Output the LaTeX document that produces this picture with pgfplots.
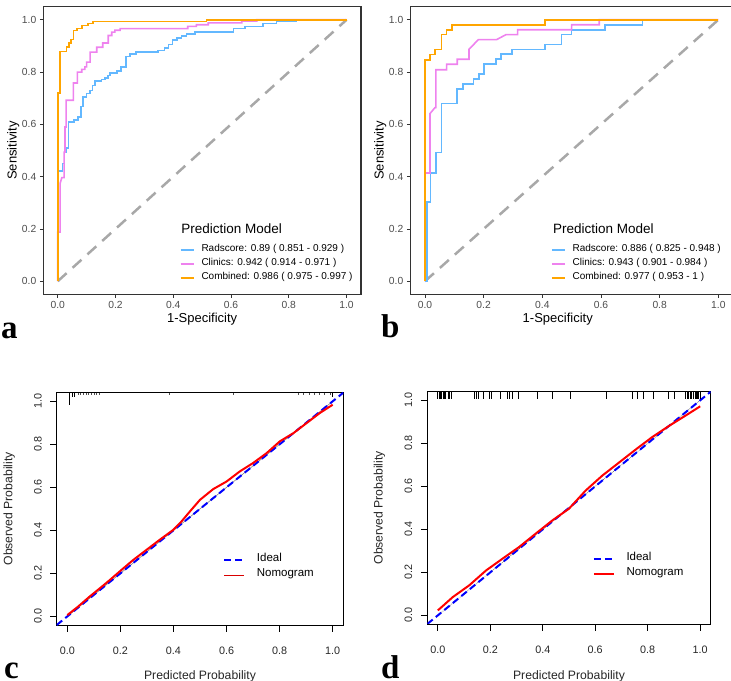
\documentclass[border=0pt]{standalone}
\usepackage{pgfplots}
\pgfplotsset{compat=1.18}
\usepackage{fontspec}
\setmainfont{Liberation Sans}
\newfontfamily\panelfont{Liberation Serif}
\definecolor{radc}{HTML}{63B8FF}
\definecolor{clinc}{HTML}{EE82EE}
\definecolor{combc}{HTML}{FFA500}
\definecolor{diagc}{HTML}{A8A8A8}
\definecolor{ticktxt}{HTML}{4D4D4D}
\pgfplotsset{
  roc/.style={
    scale only axis, height=287.6bp,
    xmin=-0.05, xmax=1.05, ymin=-0.05, ymax=1.05,
    xtick={0,0.2,0.4,0.6,0.8,1}, ytick={0,0.2,0.4,0.6,0.8,1},
    xticklabels={0.0,0.2,0.4,0.6,0.8,1.0}, yticklabels={0.0,0.2,0.4,0.6,0.8,1.0},
    tick align=outside, tick pos=left, major tick length=3.5bp,
    axis line style={draw=black!80, line width=1.1bp},
    every tick/.style={draw=black!80, line width=0.8bp},
    tick label style={font=\fontsize{10.3bp}{12bp}\selectfont, text=ticktxt},
    label style={font=\fontsize{13bp}{15bp}\selectfont},
    xlabel={1-Specificity}, ylabel={Sensitivity},
    legend cell align=left,
    legend image code/.code={\draw[##1, line width=1.6bp] (0bp,0bp) -- (13bp,0bp);},
    legend style={anchor=north west, draw=none, fill=none, inner sep=0pt, outer sep=0pt,
      font=\fontsize{10bp}{12bp}\selectfont, row sep=0pt,
      nodes={inner ysep=0pt, inner xsep=0pt, text height=8bp, text depth=6bp},
      /tikz/every odd column/.append style={column sep=7bp}},
  },
  cal/.style={
    scale only axis, height=232.3bp,
    xmin=-0.04, xmax=1.04, ymin=-0.04, ymax=1.04,
    xtick={0,0.2,0.4,0.6,0.8,1}, ytick={0,0.2,0.4,0.6,0.8,1},
    xticklabels={0.0,0.2,0.4,0.6,0.8,1.0}, yticklabels={0.0,0.2,0.4,0.6,0.8,1.0},
    tick align=outside, tick pos=left, major tick length=6.5bp,
    axis line style={draw=black, line width=0.9bp},
    every tick/.style={draw=black, line width=0.8bp},
    tick label style={font=\fontsize{10.8bp}{12bp}\selectfont, text=black!85},
    yticklabel style={rotate=90, anchor=south},
    xticklabel shift=12bp, yticklabel shift=5bp,
    label style={font=\fontsize{12.2bp}{14bp}\selectfont, text=black!85},
    xlabel={Predicted Probability}, ylabel={Observed Probability},
    legend cell align=left,
    legend style={anchor=north west, draw=none, fill=none, inner sep=0pt, outer sep=0pt,
      font=\fontsize{11.5bp}{13bp}\selectfont, row sep=0pt,
      nodes={inner ysep=0pt, inner xsep=0pt, text height=8.5bp, text depth=6.5bp},
      /tikz/every odd column/.append style={column sep=11.7bp}},
    legend image code/.code={\draw[##1] (0bp,0bp) -- (20bp,0bp);},
  },
}
\begin{document}
\begin{tikzpicture}
\useasboundingbox (0,0) rectangle (731bp,681bp);
\begin{pgfinterruptboundingbox}
\begin{scope}
\clip (0,0) rectangle (731bp,681bp);
% ---------------- panel a ----------------
\begin{axis}[roc, at={(43.3bp,386.7bp)}, anchor=south west, width=317.7bp,
  xlabel style={at={(axis description cs:0.5,-0.087)}, anchor=center},
  ylabel style={at={(axis description cs:-0.0944,0.5)}, anchor=center},
  legend style={at={(axis description cs:0.430,0.178)}}]
\addplot[diagc, line width=2.5bp, dash pattern=on 12bp off 8bp, forget plot] coordinates {(0,0) (1,1)};
\addplot[radc, line width=1.6bp] coordinates {
(0,0)(0,0.421)(0.017,0.421)(0.017,0.45)(0.023,0.45)(0.023,0.494)(0.031,0.494)(0.031,0.51)(0.037,0.51)(0.037,0.609)(0.056,0.609)(0.056,0.617)(0.071,0.617)(0.071,0.628)(0.08,0.628)(0.08,0.669)(0.088,0.669)(0.088,0.704)(0.1,0.704)(0.1,0.718)(0.112,0.718)(0.112,0.73)(0.121,0.73)(0.121,0.749)(0.129,0.749)(0.129,0.765)(0.152,0.765)(0.152,0.772)(0.164,0.772)(0.164,0.778)(0.174,0.778)(0.174,0.787)(0.181,0.787)(0.181,0.796)(0.205,0.796)(0.205,0.805)(0.218,0.805)(0.218,0.819)(0.236,0.819)(0.236,0.86)(0.25,0.86)(0.25,0.87)(0.27,0.87)(0.27,0.876)(0.348,0.876)(0.348,0.882)(0.37,0.882)(0.37,0.893)(0.383,0.893)(0.383,0.905)(0.398,0.905)(0.398,0.923)(0.412,0.923)(0.412,0.93)(0.429,0.93)(0.429,0.937)(0.446,0.937)(0.446,0.945)(0.475,0.945)(0.475,0.953)(0.608,0.953)(0.608,0.966)(0.648,0.966)(0.648,0.974)(0.711,0.974)(0.711,0.985)(0.758,0.985)(0.758,0.993)(0.827,0.993)(0.827,1)(1,1)};
\addlegendentry{Radscore: 0.89 ( 0.851 - 0.929 )}
\addplot[clinc, line width=1.6bp] coordinates {
(0,0)(0,0.188)(0.008,0.188)(0.008,0.373)(0.014,0.396)(0.022,0.396)(0.022,0.494)(0.025,0.494)(0.025,0.59)(0.029,0.59)(0.029,0.692)(0.054,0.692)(0.054,0.758)(0.068,0.758)(0.068,0.8)(0.083,0.8)(0.083,0.81)(0.094,0.81)(0.094,0.82)(0.1,0.82)(0.1,0.838)(0.112,0.838)(0.112,0.876)(0.135,0.876)(0.135,0.895)(0.156,0.895)(0.156,0.911)(0.175,0.911)(0.175,0.94)(0.187,0.94)(0.187,0.953)(0.198,0.953)(0.198,0.96)(0.216,0.96)(0.216,0.966)(0.45,0.966)(0.45,0.975)(0.48,0.975)(0.48,0.981)(0.521,0.981)(0.521,0.988)(0.637,0.988)(0.637,0.995)(0.689,0.995)(0.689,1)(1,1)};
\addlegendentry{Clinics: 0.942 ( 0.914 - 0.971 )}
\addplot[combc, line width=1.6bp] coordinates {
(0,0)(0,0.72)(0.007,0.72)(0.007,0.879)(0.03,0.879)(0.03,0.895)(0.039,0.895)(0.039,0.911)(0.046,0.911)(0.046,0.925)(0.054,0.925)(0.054,0.959)(0.066,0.959)(0.066,0.967)(0.083,0.967)(0.083,0.978)(0.104,0.978)(0.104,0.985)(0.123,0.985)(0.123,0.993)(0.515,0.993)(0.515,1)(1,1)};
\addlegendentry{Combined: 0.986 ( 0.975 - 0.997 )}
\node[anchor=west, inner sep=0pt, font=\fontsize{13.5bp}{15bp}\selectfont] at (axis cs:0.427,0.2025) {Prediction Model};
\end{axis}
% ---------------- panel b ----------------
\begin{axis}[roc, at={(410.3bp,386.7bp)}, anchor=south west, width=322.7bp,
  xlabel style={at={(axis description cs:0.457,-0.087)}, anchor=center},
  ylabel style={at={(axis description cs:-0.093,0.5)}, anchor=center},
  legend style={at={(axis description cs:0.436,0.178)}}]
\addplot[diagc, line width=2.5bp, dash pattern=on 12bp off 8bp, forget plot] coordinates {(0,0) (1,1)};
\addplot[radc, line width=1.6bp] coordinates {
(0,0)(0.006,0)(0.006,0.303)(0.019,0.303)(0.019,0.414)(0.038,0.414)(0.038,0.492)(0.056,0.492)(0.056,0.679)(0.11,0.679)(0.11,0.736)(0.13,0.736)(0.13,0.755)(0.165,0.755)(0.165,0.774)(0.185,0.774)(0.185,0.793)(0.202,0.793)(0.202,0.83)(0.242,0.83)(0.242,0.849)(0.259,0.849)(0.259,0.868)(0.296,0.868)(0.296,0.887)(0.409,0.887)(0.409,0.906)(0.466,0.906)(0.466,0.943)(0.5,0.943)(0.5,0.962)(0.614,0.962)(0.614,0.981)(0.742,0.981)(0.742,1)(1,1)};
\addlegendentry{Radscore: 0.886 ( 0.825 - 0.948 )}
\addplot[clinc, line width=1.6bp] coordinates {
(0,0)(0,0.414)(0.017,0.414)(0.017,0.641)(0.034,0.664)(0.037,0.664)(0.037,0.809)(0.074,0.809)(0.074,0.83)(0.11,0.83)(0.11,0.849)(0.15,0.849)(0.15,0.887)(0.182,0.924)(0.244,0.924)(0.276,0.943)(0.316,0.943)(0.316,0.962)(0.5,0.962)(0.5,0.981)(0.594,0.981)(0.594,1)(1,1)};
\addlegendentry{Clinics: 0.943 ( 0.901 - 0.984 )}
\addplot[combc, line width=1.6bp] coordinates {
(0,0)(0,0.847)(0.017,0.847)(0.017,0.867)(0.034,0.867)(0.034,0.887)(0.056,0.887)(0.056,0.943)(0.074,0.943)(0.074,0.962)(0.093,0.962)(0.093,0.981)(0.409,0.981)(0.409,1)(1,1)};
\addlegendentry{Combined: 0.977 ( 0.953 - 1 )}
\node[anchor=west, inner sep=0pt, font=\fontsize{13.5bp}{15bp}\selectfont] at (axis cs:0.4364,0.2025) {Prediction Model};
\end{axis}
% ---------------- panel c ----------------
\begin{axis}[cal, at={(56.7bp,56bp)}, anchor=south west, width=286.6bp,
  xlabel style={at={(axis description cs:0.5,-0.2226)}, anchor=center},
  ylabel style={at={(axis description cs:-0.1654,0.5)}, anchor=center},
  legend style={at={(axis description cs:0.581,0.312)}}]
\addplot[gray, line width=0.6bp, forget plot] coordinates {(0,0) (1,1)};
\addplot[blue, line width=2bp, dash pattern=on 7bp off 4bp] coordinates {(-0.04,-0.04) (1.04,1.04)};
\addlegendentry{Ideal}
\addplot[red, line width=2bp, forget plot] coordinates {
(0,0.006)(0.04,0.045)(0.084,0.092)(0.122,0.13)(0.16,0.169)(0.204,0.216)(0.248,0.262)(0.298,0.309)(0.348,0.356)(0.399,0.402)(0.43,0.441)(0.462,0.488)(0.5,0.542)(0.55,0.592)(0.6,0.627)(0.65,0.674)(0.7,0.713)(0.751,0.759)(0.801,0.814)(0.852,0.852)(0.902,0.899)(0.952,0.946)(1,0.984)};
\addlegendimage{red!85!black, line width=1bp}
\addlegendentry{Nomogram}
\addplot[only marks, mark=|, mark size=6bp, mark options={line width=0.7bp, draw=black}, forget plot] coordinates {(0.009,1.012)};
\addplot[only marks, mark=|, mark size=2bp, mark options={line width=0.6bp, draw=black}, forget plot] coordinates {(0.02,1.031)(0.025,1.031)(1.0,1.031)};
\addplot[only marks, mark=|, mark size=1.2bp, mark options={line width=0.6bp, draw=black!70}, forget plot] coordinates {
(0.04,1.034)(0.05,1.034)(0.06,1.034)(0.07,1.034)(0.08,1.034)(0.09,1.034)(0.1,1.034)(0.11,1.034)(0.12,1.034)(0.386,1.034)(0.625,1.034)(0.87,1.034)(0.89,1.034)(0.91,1.034)(0.93,1.034)(0.95,1.034)(0.97,1.034)(0.99,1.034)};
\end{axis}
% ---------------- panel d ----------------
\begin{axis}[cal, at={(427.3bp,57bp)}, anchor=south west, width=283.4bp,
  xlabel style={at={(axis description cs:0.5,-0.224)}, anchor=center},
  ylabel style={at={(axis description cs:-0.169,0.5)}, anchor=center},
  legend style={at={(axis description cs:0.584,0.31)}}]
\addplot[black!70, line width=0.6bp, densely dotted, forget plot] coordinates {(0,0) (1,1)};
\addplot[blue, line width=2bp, dash pattern=on 7bp off 4bp] coordinates {(-0.04,-0.04) (1.04,1.04)};
\addlegendentry{Ideal}
\addplot[red, line width=2bp] coordinates {
(0,0.023)(0.057,0.085)(0.12,0.14)(0.184,0.209)(0.247,0.264)(0.31,0.318)(0.373,0.38)(0.437,0.442)(0.5,0.496)(0.563,0.58)(0.627,0.65)(0.69,0.71)(0.753,0.77)(0.816,0.828)(0.88,0.88)(0.943,0.928)(1,0.972)};
\addlegendentry{Nomogram}
\addplot[only marks, mark=|, mark size=3.4bp, mark options={line width=0.8bp, draw=black}, forget plot] coordinates {
(0,1.024)(0.005,1.024)(0.01,1.024)(0.015,1.024)(0.02,1.024)(0.025,1.024)(0.03,1.024)(0.04,1.024)(0.045,1.024)(0.05,1.024)
(0.139,1.024)(0.148,1.024)(0.156,1.024)(0.175,1.024)(0.196,1.024)(0.203,1.024)(0.238,1.024)(0.266,1.024)(0.272,1.024)(0.285,1.024)(0.307,1.024)
(0.38,1.024)(0.437,1.024)(0.507,1.024)(0.643,1.024)(0.741,1.024)(0.76,1.024)(0.785,1.024)(0.823,1.024)(0.88,1.024)(0.9,1.024)
(0.943,1.024)(0.95,1.024)(0.956,1.024)(0.962,1.024)(0.968,1.024)(0.975,1.024)(0.981,1.024)(0.986,1.024)(0.99,1.024)(0.994,1.024)(1.0,1.024)};
\end{axis}
% panel letters
\node[anchor=base west, inner sep=0pt, font=\panelfont\bfseries\fontsize{33bp}{33bp}\selectfont] at (1bp,342bp) {a};
\node[anchor=base west, inner sep=0pt, font=\panelfont\bfseries\fontsize{33bp}{33bp}\selectfont] at (381bp,343bp) {b};
\node[anchor=base west, inner sep=0pt, font=\panelfont\bfseries\fontsize{33bp}{33bp}\selectfont] at (4bp,3bp) {c};
\node[anchor=base west, inner sep=0pt, font=\panelfont\bfseries\fontsize{33bp}{33bp}\selectfont] at (381bp,3bp) {d};
\end{scope}
\end{pgfinterruptboundingbox}
\end{tikzpicture}
\end{document}
